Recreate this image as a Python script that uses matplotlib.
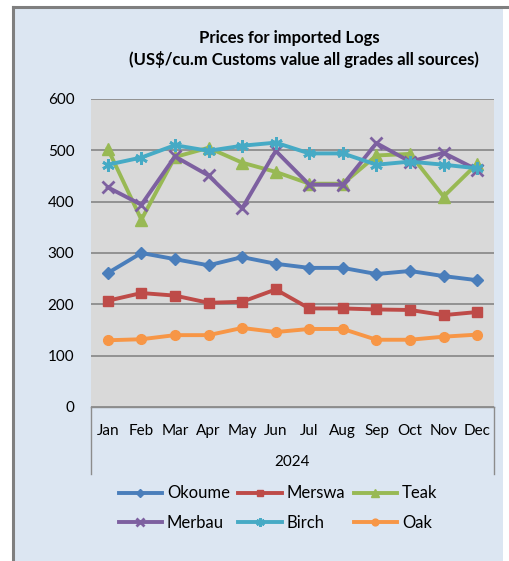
import matplotlib
matplotlib.use("Agg")
import matplotlib.pyplot as plt
from matplotlib.patches import Rectangle
from matplotlib.lines import Line2D

plt.rcParams['font.family'] = ['Lato', 'DejaVu Sans']

months = ["Jan", "Feb", "Mar", "Apr", "May", "Jun", "Jul", "Aug", "Sep", "Oct", "Nov", "Dec"]
year_label = "2024"
okoume = [261, 300, 288, 276, 292, 279, 271, 271, 259, 265, 255, 247]
merswa = [207, 222, 217, 203, 205, 229, 192, 192, 190, 189, 179, 185]
teak = [503, 365, 487, 505, 476, 458, 435, 435, 490, 493, 410, 474]
merbau = [428, 394, 488, 451, 387, 499, 433, 433, 514, 478, 495, 462]
birch = [472, 486, 510, 499, 509, 515, 494, 494, 472, 478, 472, 465]
oak = [130, 132, 140, 140, 154, 146, 152, 152, 131, 131, 137, 141]
y_ticks = [0, 100, 200, 300, 400, 500, 600]

W, H = 510, 561
fig = plt.figure(figsize=(W / 100, H / 100), dpi=100)
fig.patch.set_facecolor('white')

def fx(px):
    return px / W

def fy(py):
    return 1 - py / H

# background frame
fig.patches.append(Rectangle((fx(13), -0.01), fx(503) - fx(13), fy(7) + 0.01,
                             transform=fig.transFigure, facecolor='#DCE6F2',
                             edgecolor='none', zorder=-5))
fig.lines.append(Line2D([fx(13), fx(13)], [-0.01, fy(7)], transform=fig.transFigure,
                        color='#7F7F7F', lw=2.2, zorder=-4))
fig.lines.append(Line2D([fx(13), 1.0], [fy(7), fy(7)], transform=fig.transFigure,
                        color='#7F7F7F', lw=2.2, zorder=-4))

ax = fig.add_axes([fx(91), fy(407), fx(494) - fx(91), fy(99) - fy(407)])
ax.set_zorder(2)
ax.set_facecolor('#D9D9D9')
x = list(range(len(months)))

series = [
    ("Okoume", okoume, '#4A7EBB', dict(marker='D', markersize=6)),
    ("Merswa", merswa, '#BE4B48', dict(marker='s', markersize=7)),
    ("Teak", teak, '#98B954', dict(marker='^', markersize=8)),
    ("Merbau", merbau, '#7D60A0', dict(marker='x', markersize=8, markeredgewidth=2)),
    ("Birch", birch, '#46AAC5', dict(marker=(6, 2, 0), markersize=9, markeredgewidth=2)),
    ("Oak", oak, '#F79646', dict(marker='o', markersize=7)),
]
handles = {}
for name, vals, col, mk in series:
    ln, = ax.plot(x, vals, color=col, lw=2.8, label=name, zorder=3, **mk)
    handles[name] = ln

ax.set_xlim(-0.5, 11.5)
ax.set_ylim(0, 600)
ax.set_yticks(y_ticks)
ax.set_xticks(x)
ax.set_xticklabels(months)
ax.tick_params(axis='both', length=0, labelsize=11, colors='black')
ax.tick_params(axis='x', pad=12)
ax.tick_params(axis='y', pad=12)
ax.grid(axis='y', color='#8C8C8C', lw=1.3, zorder=1)
ax.set_axisbelow(True)
for s in ['top', 'right', 'left']:
    ax.spines[s].set_visible(False)
ax.spines['bottom'].set_color('#8C8C8C')
ax.spines['bottom'].set_linewidth(1.0)

# category box sides
for px in (91, 494):
    fig.lines.append(Line2D([fx(px), fx(px)], [fy(407), fy(474)], transform=fig.transFigure,
                            color='#8C8C8C', lw=1.0))

fig.text(fx(292.5), fy(462), year_label, ha='center', va='center', fontsize=11)

fig.text(fx(289), fy(38), "Prices for imported Logs",
         ha='center', va='center', fontsize=12, fontweight='bold')
fig.text(fx(304), fy(59), "(US$/cu.m Customs value all grades all sources)",
         ha='center', va='center', fontsize=12, fontweight='bold')

order = ["Okoume", "Merbau", "Merswa", "Birch", "Teak", "Oak"]
leg = fig.legend([handles[n] for n in order], order, ncol=3, loc='center',
                 bbox_to_anchor=(fx(278), fy(508)), frameon=False, fontsize=12,
                 markerscale=0.7, handlelength=2.6, handletextpad=0.3,
                 columnspacing=0.5, labelspacing=0.8)

fig.savefig("out.png", dpi=100, facecolor=fig.get_facecolor())
